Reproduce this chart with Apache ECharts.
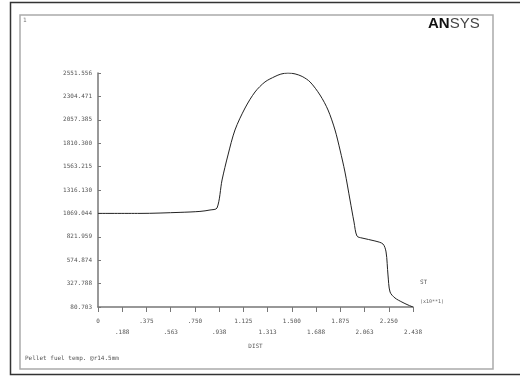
<!DOCTYPE html>
<html>
<head>
<meta charset="utf-8">
<script src="https://cdn.jsdelivr.net/npm/echarts@6/dist/echarts.min.js"></script>
<style>
  html, body { margin: 0; padding: 0; background: #fff; }
  #chart { width: 520px; height: 377px; }
</style>
</head>
<body>
<div id="chart"></div>
<script>
// Path distance along the pellet (DIST) and fuel temperature (ST)
const distValues = [0, 0.325, 0.635, 0.789, 0.867, 0.921, 0.960, 1.006, 1.060, 1.138, 1.215, 1.292,
  1.370, 1.415, 1.470, 1.525, 1.580, 1.641, 1.718, 1.780, 1.834, 1.873, 1.911, 1.950, 1.981, 2.004,
  2.043, 2.143, 2.205, 2.229, 2.244, 2.260, 2.298, 2.352, 2.399, 2.4375];
const tempValues = [1069.0, 1069.0, 1080, 1090, 1105, 1126, 1422, 1686, 1950, 2182, 2351, 2457,
  2515, 2540, 2551.556, 2542, 2515, 2457, 2319, 2161, 1950, 1738, 1506, 1211, 978, 830,
  809, 778, 746, 662, 419, 239, 176, 133, 102, 80.703];

// Axis tick positions and their printed labels
const yTickValues = [80.703, 327.788, 574.874, 821.959, 1069.044, 1316.130, 1563.215,
  1810.300, 2057.385, 2304.471, 2551.556];
const yTickLabels = ['80.703', '327.788', '574.874', '821.959', '1069.044', '1316.130', '1563.215',
  '1810.300', '2057.385', '2304.471', '2551.556'];
const xTickValues = [0, 0.1875, 0.375, 0.5625, 0.75, 0.9375, 1.125, 1.3125, 1.5, 1.6875,
  1.875, 2.0625, 2.25, 2.4375];
const xTickLabels = ['0', '.188', '.375', '.563', '.750', '.938', '1.125', '1.313', '1.500',
  '1.688', '1.875', '2.063', '2.250', '2.438'];

const labelFont = { fontFamily: 'DejaVu Sans Mono', fontSize: 6, color: '#555' };

const chart = echarts.init(document.getElementById('chart'), null, { renderer: 'canvas' });
chart.setOption({
  animation: false,
  backgroundColor: '#fff',
  grid: { left: 98, top: 73, right: 107, bottom: 70 },
  xAxis: {
    type: 'value',
    min: 0,
    max: 2.4375,
    name: 'DIST',
    nameLocation: 'middle',
    nameGap: 36,
    nameTextStyle: labelFont,
    axisLine: { show: true, lineStyle: { color: '#777', width: 1.5 } },
    axisTick: { show: true, inside: false, length: 5, customValues: xTickValues, lineStyle: { color: '#777' } },
    splitLine: { show: false },
    axisLabel: Object.assign({
      customValues: xTickValues,
      margin: 9,
      lineHeight: 11,
      formatter: function (v) {
        let i = xTickValues.findIndex(function (t) { return Math.abs(t - v) < 1e-6; });
        if (i < 0) return '';
        return (i % 2 === 1 ? '\n' : '') + xTickLabels[i];
      }
    }, labelFont)
  },
  yAxis: {
    type: 'value',
    min: 80.703,
    max: 2551.556,
    axisLine: { show: true, lineStyle: { color: '#777', width: 1.5 } },
    axisTick: { show: true, inside: true, length: 3, customValues: yTickValues, lineStyle: { color: '#777' } },
    splitLine: { show: false },
    axisLabel: Object.assign({
      customValues: yTickValues,
      margin: 6,
      formatter: function (v) {
        let i = yTickValues.findIndex(function (t) { return Math.abs(t - v) < 1e-3; });
        return i < 0 ? '' : yTickLabels[i];
      }
    }, labelFont)
  },
  series: [{
    type: 'line',
    name: 'ST',
    data: distValues.map(function (d, i) { return [d, tempValues[i]]; }),
    showSymbol: false,
    smooth: 0.3,
    lineStyle: { color: '#222', width: 1 }
  }],
  graphic: [
    { type: 'rect', shape: { x: 10.5, y: 2.5, width: 515, height: 372 },
      style: { fill: 'none', stroke: '#333', lineWidth: 1.5 }, silent: true },
    { type: 'rect', shape: { x: 20, y: 15, width: 473, height: 354 },
      style: { fill: 'none', stroke: '#aaa', lineWidth: 1.5 }, silent: true },
    { type: 'text', left: 23, top: 17,
      style: { text: '1', font: '6px DejaVu Sans Mono', fill: '#777' } },
    { type: 'text', left: 428, top: 16,
      style: { text: '{a|AN}{b|SYS}', rich: {
        a: { font: 'bold 15px Liberation Sans Narrow, Liberation Sans', fill: '#111' },
        b: { font: '15px Liberation Sans Narrow, Liberation Sans', fill: '#444' } } } },
    { type: 'text', left: 420, top: 279,
      style: { text: 'ST', font: '6px DejaVu Sans Mono', fill: '#555' } },
    { type: 'text', left: 420, top: 299,
      style: { text: '(x10**1)', font: '5px DejaVu Sans Mono', fill: '#666' } },
    { type: 'text', left: 25, top: 355,
      style: { text: 'Pellet fuel temp. @r14.5mm', font: '6px DejaVu Sans Mono', fill: '#555' } }
  ]
});
</script>
</body>
</html>
